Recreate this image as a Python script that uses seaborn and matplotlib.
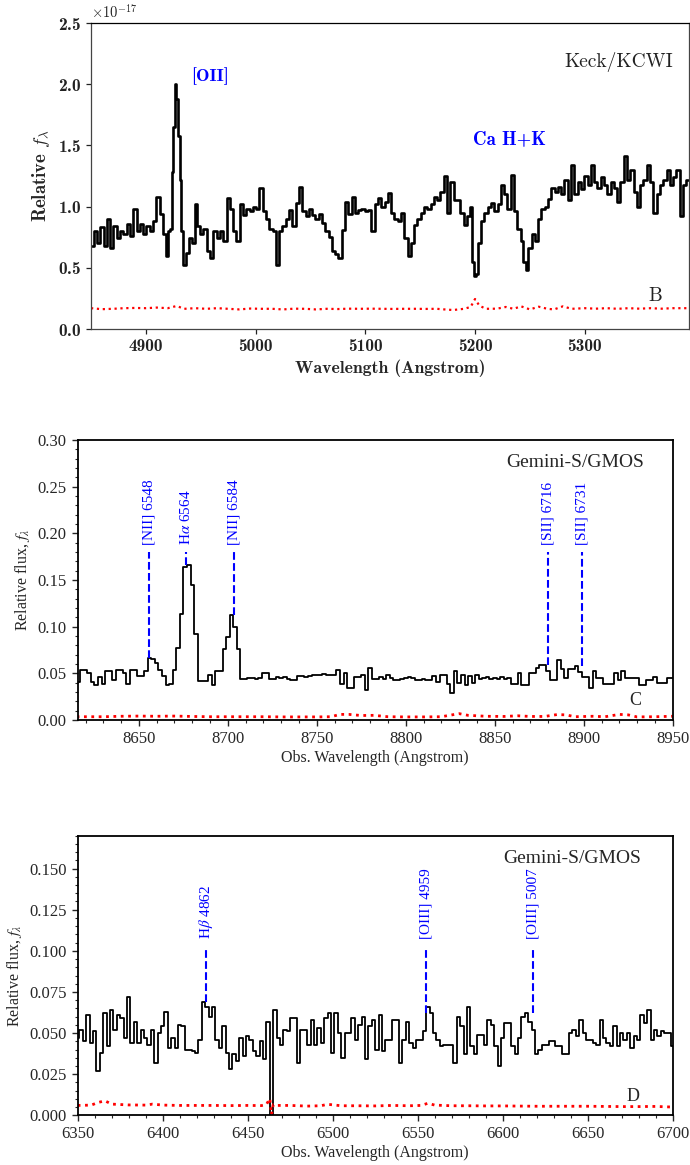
import numpy as np
import seaborn as sns
import matplotlib.pyplot as plt
from matplotlib.ticker import MultipleLocator, ScalarFormatter

# %% Panel B: Keck/KCWI spectrum (flux in units of 1e-17)
wave_b = [4851, 4854, 4857, 4860, 4863, 4866, 4869, 4872, 4875, 4878,
          4881, 4884, 4887, 4890, 4893, 4896, 4899, 4902, 4905, 4908,
          4911, 4914, 4917, 4919, 4921, 4923, 4924, 4925.5, 4927, 4928.5,
          4930, 4931.5, 4933, 4935, 4938, 4941, 4944, 4946, 4948, 4951,
          4954, 4957, 4960, 4963, 4966, 4969, 4972, 4975, 4978, 4981,
          4984, 4987, 4990, 4993, 4996, 4999, 5002, 5005, 5008, 5011,
          5014, 5017, 5020, 5023, 5026, 5029, 5032, 5035, 5038, 5041,
          5044, 5047, 5050, 5053, 5056, 5059, 5062, 5065, 5068, 5071,
          5074, 5077, 5080, 5083, 5086, 5089, 5092, 5095, 5098, 5101,
          5104, 5107, 5110, 5113, 5116, 5119, 5122, 5125, 5128, 5131,
          5134, 5137, 5140, 5143, 5146, 5149, 5152, 5155, 5158, 5161,
          5164, 5167, 5170, 5173, 5176, 5179, 5182, 5185, 5188, 5191,
          5194, 5196, 5198, 5200, 5202, 5204, 5207, 5210, 5213, 5216,
          5219, 5222, 5225, 5228, 5231, 5234, 5237, 5240, 5243, 5245,
          5247, 5250, 5253, 5256, 5259, 5262, 5265, 5268, 5271, 5274,
          5277, 5280, 5283, 5286, 5289, 5292, 5295, 5298, 5301, 5304,
          5307, 5310, 5313, 5316, 5319, 5322, 5325, 5328, 5331, 5334,
          5337, 5340, 5343, 5346, 5349, 5352, 5355, 5358, 5361, 5364,
          5367, 5370, 5373, 5376, 5379, 5382, 5385, 5388, 5391, 5394]
flux_b = [0.68, 0.80, 0.70, 0.83, 0.68, 0.90, 0.66, 0.84, 0.74, 0.80,
          0.78, 0.86, 0.76, 0.98, 0.80, 0.86, 0.78, 0.84, 0.80, 0.88,
          1.08, 0.94, 0.78, 0.60, 0.80, 0.82, 1.28, 1.65, 2.00, 1.88,
          1.58, 1.22, 0.80, 0.52, 0.62, 0.74, 0.70, 1.02, 0.84, 0.78,
          0.82, 0.64, 0.58, 0.80, 0.74, 0.80, 0.72, 1.07, 0.98, 0.80,
          0.72, 1.02, 0.93, 0.98, 0.96, 1.00, 0.98, 1.15, 0.96, 0.90,
          0.82, 0.80, 0.52, 0.80, 0.84, 0.90, 0.97, 0.84, 1.03, 1.16,
          0.96, 0.92, 0.98, 0.93, 0.90, 0.94, 0.87, 0.80, 0.75, 0.64,
          0.61, 0.58, 0.81, 1.04, 0.94, 1.08, 0.95, 0.97, 0.98, 0.96,
          0.97, 0.80, 1.02, 1.07, 1.00, 1.04, 1.11, 0.95, 0.90, 0.88,
          0.95, 0.74, 0.60, 0.70, 0.85, 0.90, 0.95, 1.00, 0.98, 1.02,
          1.08, 1.05, 1.12, 1.25, 0.95, 1.20, 1.05, 1.05, 0.95, 0.85,
          0.92, 1.00, 0.55, 0.43, 0.45, 0.70, 0.88, 0.95, 1.00, 1.03,
          0.96, 1.02, 1.18, 1.10, 0.98, 1.26, 0.96, 0.82, 0.72, 0.55,
          0.48, 0.66, 0.78, 0.72, 0.90, 0.98, 1.00, 1.06, 1.15, 1.12,
          1.16, 1.10, 1.22, 1.05, 1.34, 1.10, 1.20, 1.14, 1.25, 1.18,
          1.34, 1.20, 1.15, 1.24, 1.18, 1.10, 1.20, 1.15, 1.04, 1.20,
          1.41, 1.22, 1.30, 1.12, 1.00, 1.18, 1.22, 1.34, 1.20, 0.95,
          1.10, 1.18, 1.22, 1.30, 1.18, 1.24, 1.30, 0.92, 1.18, 1.22]
err_wave_b = [4850, 4860, 4870, 4880, 4890, 4900, 4910, 4920, 4928, 4935,
              4945, 4955, 4965, 4975, 4985, 4995, 5005, 5015, 5025, 5035,
              5045, 5055, 5065, 5075, 5085, 5095, 5105, 5115, 5125, 5135,
              5145, 5155, 5165, 5172, 5180, 5190, 5196, 5200, 5204, 5210,
              5220, 5228, 5235, 5242, 5250, 5258, 5266, 5272, 5280, 5288,
              5300, 5310, 5320, 5330, 5340, 5350, 5360, 5370, 5380, 5395]
err_b = [0.170, 0.162, 0.165, 0.170, 0.172, 0.170, 0.175, 0.170, 0.188, 0.165,
         0.170, 0.165, 0.170, 0.165, 0.160, 0.167, 0.165, 0.165, 0.160, 0.166,
         0.165, 0.160, 0.165, 0.163, 0.166, 0.165, 0.166, 0.165, 0.164, 0.165,
         0.165, 0.164, 0.165, 0.160, 0.155, 0.165, 0.180, 0.245, 0.190, 0.165,
         0.166, 0.180, 0.165, 0.185, 0.160, 0.182, 0.165, 0.160, 0.185, 0.165,
         0.170, 0.166, 0.170, 0.165, 0.170, 0.166, 0.170, 0.166, 0.170, 0.170]
scale_b = 1e-17

# %% Panel C: Gemini-S/GMOS red side
wave_c = [8616, 8618, 8620, 8622, 8624, 8626, 8628, 8630, 8632, 8634,
          8636, 8638, 8640, 8642, 8644, 8646, 8648, 8650, 8652, 8654,
          8656, 8658, 8660, 8662, 8664, 8666, 8668, 8670, 8672, 8674,
          8676, 8678, 8680, 8682, 8684, 8686, 8688, 8690, 8692, 8694,
          8696, 8698, 8700, 8702, 8704, 8706, 8708, 8710, 8712, 8714,
          8716, 8718, 8720, 8722, 8724, 8726, 8728, 8730, 8732, 8734,
          8736, 8738, 8740, 8742, 8744, 8746, 8748, 8750, 8752, 8754,
          8756, 8758, 8760, 8762, 8764, 8766, 8768, 8770, 8772, 8774,
          8776, 8778, 8780, 8782, 8784, 8786, 8788, 8790, 8792, 8794,
          8796, 8798, 8800, 8802, 8804, 8806, 8808, 8810, 8812, 8814,
          8816, 8818, 8820, 8822, 8824, 8826, 8828, 8830, 8832, 8834,
          8836, 8838, 8840, 8842, 8844, 8846, 8848, 8850, 8852, 8854,
          8856, 8858, 8860, 8862, 8864, 8866, 8868, 8870, 8872, 8874,
          8876, 8878, 8880, 8882, 8884, 8886, 8888, 8890, 8892, 8894,
          8896, 8898, 8900, 8902, 8904, 8906, 8908, 8910, 8912, 8914,
          8916, 8918, 8920, 8922, 8924, 8926, 8928, 8930, 8932, 8934,
          8936, 8938, 8940, 8942, 8944, 8946, 8948, 8950]
flux_c = [0.041, 0.054, 0.054, 0.050, 0.041, 0.038, 0.046, 0.039, 0.052, 0.052,
          0.043, 0.054, 0.054, 0.050, 0.039, 0.054, 0.054, 0.047, 0.047, 0.052,
          0.066, 0.065, 0.061, 0.054, 0.047, 0.038, 0.039, 0.054, 0.077, 0.114,
          0.164, 0.166, 0.145, 0.092, 0.042, 0.042, 0.042, 0.048, 0.038, 0.052,
          0.052, 0.076, 0.089, 0.113, 0.100, 0.076, 0.044, 0.044, 0.045, 0.045,
          0.044, 0.045, 0.050, 0.050, 0.044, 0.044, 0.046, 0.045, 0.046, 0.044,
          0.043, 0.043, 0.047, 0.047, 0.046, 0.047, 0.048, 0.048, 0.048, 0.049,
          0.048, 0.048, 0.048, 0.054, 0.039, 0.050, 0.034, 0.034, 0.046, 0.046,
          0.048, 0.032, 0.056, 0.044, 0.044, 0.046, 0.044, 0.048, 0.045, 0.043,
          0.043, 0.044, 0.045, 0.046, 0.045, 0.043, 0.043, 0.044, 0.043, 0.043,
          0.047, 0.041, 0.048, 0.048, 0.039, 0.029, 0.052, 0.040, 0.048, 0.038,
          0.047, 0.040, 0.048, 0.044, 0.045, 0.046, 0.044, 0.045, 0.044, 0.046,
          0.044, 0.045, 0.039, 0.039, 0.050, 0.038, 0.038, 0.050, 0.050, 0.056,
          0.059, 0.059, 0.053, 0.043, 0.043, 0.064, 0.055, 0.045, 0.055, 0.055,
          0.058, 0.051, 0.046, 0.046, 0.034, 0.053, 0.045, 0.045, 0.039, 0.039,
          0.039, 0.050, 0.043, 0.053, 0.045, 0.045, 0.045, 0.045, 0.038, 0.038,
          0.043, 0.043, 0.046, 0.040, 0.040, 0.040, 0.045, 0.045]
err_wave_c = [8615, 8630, 8640, 8650, 8660, 8670, 8680, 8690, 8700, 8710,
              8720, 8730, 8740, 8750, 8758, 8763, 8768, 8775, 8782, 8790,
              8800, 8810, 8820, 8826, 8830, 8835, 8845, 8855, 8863, 8870,
              8878, 8885, 8890, 8895, 8905, 8912, 8920, 8925, 8930, 8940,
              8950]
err_c = [0.0035, 0.0035, 0.0040, 0.0042, 0.0040, 0.0042, 0.0038, 0.0035, 0.0035, 0.0035,
         0.0035, 0.0033, 0.0033, 0.0033, 0.0035, 0.0060, 0.0060, 0.0048, 0.0050, 0.0035,
         0.0033, 0.0033, 0.0035, 0.0055, 0.0068, 0.0050, 0.0040, 0.0038, 0.0045, 0.0038,
         0.0038, 0.0058, 0.0055, 0.0035, 0.0040, 0.0035, 0.0060, 0.0055, 0.0033, 0.0035,
         0.0040]
lines_c_wave = [8655.5, 8676.4, 8703.7, 8879.8, 8899.0]
lines_c_flux = [0.066, 0.166, 0.113, 0.059, 0.058]
lines_c_label = ["[NII] 6548", r"H$\alpha$ 6564", "[NII] 6584",
                 "[SII] 6716", "[SII] 6731"]

# %% Panel D: Gemini-S/GMOS blue side
wave_d = [6350, 6352, 6354, 6356, 6358, 6360, 6362, 6364, 6366, 6368,
          6370, 6372, 6374, 6376, 6378, 6380, 6382, 6384, 6386, 6388,
          6390, 6392, 6394, 6396, 6398, 6400, 6402, 6404, 6406, 6408,
          6410, 6412, 6414, 6416, 6418, 6420, 6422, 6424, 6426, 6428,
          6430, 6432, 6434, 6436, 6438, 6440, 6442, 6444, 6446, 6448,
          6450, 6452, 6454, 6456, 6458, 6460, 6462, 6464, 6466, 6468,
          6470, 6472, 6474, 6476, 6478, 6480, 6482, 6484, 6486, 6488,
          6490, 6492, 6494, 6496, 6498, 6500, 6502, 6504, 6506, 6508,
          6510, 6512, 6514, 6516, 6518, 6520, 6522, 6524, 6526, 6528,
          6530, 6532, 6534, 6536, 6538, 6540, 6542, 6544, 6546, 6548,
          6550, 6552, 6554, 6556, 6558, 6560, 6562, 6564, 6566, 6568,
          6570, 6572, 6574, 6576, 6578, 6580, 6582, 6584, 6586, 6588,
          6590, 6592, 6594, 6596, 6598, 6600, 6602, 6604, 6606, 6608,
          6610, 6612, 6614, 6616, 6618, 6620, 6622, 6624, 6626, 6628,
          6630, 6632, 6634, 6636, 6638, 6640, 6642, 6644, 6646, 6648,
          6650, 6652, 6654, 6656, 6658, 6660, 6662, 6664, 6666, 6668,
          6670, 6672, 6674, 6676, 6678, 6680, 6682, 6684, 6686, 6688,
          6690, 6692, 6694, 6696, 6698, 6700]
flux_d = [0.047, 0.052, 0.045, 0.061, 0.044, 0.051, 0.027, 0.038, 0.062, 0.042,
          0.064, 0.052, 0.061, 0.059, 0.047, 0.072, 0.044, 0.057, 0.044, 0.052,
          0.047, 0.043, 0.052, 0.032, 0.050, 0.054, 0.063, 0.041, 0.047, 0.041,
          0.055, 0.054, 0.040, 0.040, 0.039, 0.038, 0.046, 0.069, 0.066, 0.060,
          0.066, 0.046, 0.041, 0.054, 0.038, 0.028, 0.037, 0.033, 0.047, 0.036,
          0.048, 0.046, 0.039, 0.036, 0.045, 0.034, 0.057, -0.010, 0.064, 0.047,
          0.043, 0.052, 0.051, 0.059, 0.059, 0.032, 0.052, 0.052, 0.043, 0.058,
          0.043, 0.053, 0.044, 0.059, 0.062, 0.038, 0.062, 0.050, 0.035, 0.050,
          0.050, 0.059, 0.046, 0.055, 0.060, 0.034, 0.054, 0.058, 0.040, 0.061,
          0.039, 0.046, 0.046, 0.058, 0.058, 0.032, 0.046, 0.057, 0.044, 0.041,
          0.046, 0.046, 0.051, 0.066, 0.062, 0.050, 0.046, 0.042, 0.043, 0.043,
          0.043, 0.032, 0.060, 0.054, 0.037, 0.066, 0.042, 0.037, 0.049, 0.049,
          0.043, 0.058, 0.055, 0.042, 0.030, 0.047, 0.056, 0.056, 0.042, 0.037,
          0.047, 0.060, 0.062, 0.057, 0.052, 0.037, 0.040, 0.043, 0.043, 0.045,
          0.045, 0.042, 0.042, 0.037, 0.037, 0.050, 0.052, 0.048, 0.058, 0.050,
          0.046, 0.046, 0.044, 0.043, 0.058, 0.047, 0.044, 0.042, 0.054, 0.042,
          0.050, 0.046, 0.050, 0.041, 0.048, 0.046, 0.061, 0.056, 0.064, 0.046,
          0.052, 0.048, 0.051, 0.050, 0.050, 0.042]
err_wave_d = [6350, 6358, 6362, 6366, 6370, 6380, 6390, 6394, 6400, 6410,
              6420, 6430, 6440, 6450, 6458, 6461, 6463, 6464, 6465, 6467,
              6475, 6485, 6493, 6497, 6505, 6515, 6525, 6535, 6545, 6552,
              6556, 6560, 6570, 6580, 6590, 6600, 6610, 6620, 6630, 6640,
              6650, 6660, 6670, 6680, 6690, 6700]
err_d = [0.0060, 0.0062, 0.0078, 0.0088, 0.0068, 0.0063, 0.0062, 0.0068, 0.0062, 0.0060,
         0.0060, 0.0060, 0.0059, 0.0060, 0.0059, 0.0065, 0.0102, 0.0005, 0.0065, 0.0060,
         0.0060, 0.0056, 0.0058, 0.0067, 0.0058, 0.0058, 0.0057, 0.0060, 0.0058, 0.0060,
         0.0073, 0.0062, 0.0058, 0.0058, 0.0057, 0.0057, 0.0056, 0.0055, 0.0055, 0.0055,
         0.0055, 0.0054, 0.0053, 0.0053, 0.0054, 0.0050]
lines_d_wave = [6425.5, 6554.7, 6617.6]
lines_d_flux = [0.069, 0.062, 0.062]
lines_d_label = [r"H$\beta$ 4862", "[OIII] 4959", "[OIII] 5007"]

# %% Style
sns.set_style("ticks")
plt.rcParams["font.family"] = ["Liberation Serif", "DejaVu Serif"]
plt.rcParams["mathtext.fontset"] = "cm"
plt.rcParams["xtick.direction"] = "out"
plt.rcParams["ytick.direction"] = "out"

W, H = 690, 1165
fig = plt.figure(figsize=(W / 100, H / 100), dpi=100)


def px_axes(left, top, right, bottom):
    return fig.add_axes([left / W, 1 - bottom / H, (right - left) / W, (bottom - top) / H])


# %% Panel B
ax = px_axes(91, 23, 689, 329)
sns.lineplot(x=wave_b, y=np.array(flux_b) * scale_b, ax=ax, color="black",
             lw=1.9, drawstyle="steps-mid", estimator=None, sort=False)
sns.lineplot(x=err_wave_b, y=np.array(err_b) * scale_b, ax=ax, color="red",
             lw=1.6, linestyle=":", estimator=None, sort=False)
ax.set_xlim(4850, 5395)
ax.set_ylim(0, 2.5 * scale_b)
ax.xaxis.set_major_locator(MultipleLocator(100))
ax.yaxis.set_major_locator(MultipleLocator(0.5 * scale_b))
ax.yaxis.set_major_formatter(ScalarFormatter(useMathText=True))
ax.tick_params(which="major", length=3.5, width=0.9, labelsize=12.5,
               labelfontfamily="cmb10", colors="#222222")
ax.yaxis.get_offset_text().set_fontsize(10.5)
ax.yaxis.get_offset_text().set_fontfamily("cmr10")
for sp in ax.spines.values():
    sp.set_color("#444444")
    sp.set_linewidth(0.9)
ax.spines["top"].set_color("black")
ax.set_xlabel("Wavelength (Angstrom)", fontfamily="cmb10", fontsize=12.8)
ax.set_ylabel(r"Relative $f_\lambda$", fontfamily="cmb10", fontsize=13.5)
ax.text(4941, 2.07 * scale_b, "[OII]", color="blue", fontfamily="cmb10",
        fontsize=13, ha="left", va="center")
ax.text(5231, 1.55 * scale_b, "Ca H+K", color="blue", fontfamily="cmb10",
        fontsize=13.5, ha="center", va="center")
ax.text(5331, 2.18 * scale_b, "Keck/KCWI", color="#222222", fontfamily="cmr10",
        fontsize=14, ha="center", va="center")
ax.text(5364, 0.273 * scale_b, "B", color="#222222", fontfamily="cmr10",
        fontsize=14, ha="center", va="center")


def gemini_panel(ax, wave, flux, err_wave, err, lines_wave, lines_flux,
                 lines_label, line_top, label_y, xlim, ylim, ymaj, ymin,
                 tag, tag_xy, inst_xy):
    sns.lineplot(x=wave, y=flux, ax=ax, color="black", lw=1.3,
                 drawstyle="steps-mid", estimator=None, sort=False)
    sns.lineplot(x=err_wave, y=err, ax=ax, color="red", lw=2.0,
                 linestyle=":", estimator=None, sort=False)
    ax.vlines(lines_wave, lines_flux, line_top, colors="blue",
              linestyles="--", lw=1.5)
    for w, lab in zip(lines_wave, lines_label):
        ax.text(w, label_y, lab, color="blue", rotation=90, fontsize=11,
                ha="center", va="bottom", math_fontfamily="stix")
    ax.set_xlim(*xlim)
    ax.set_ylim(*ylim)
    ax.xaxis.set_major_locator(MultipleLocator(50))
    ax.xaxis.set_minor_locator(MultipleLocator(10))
    ax.yaxis.set_major_locator(MultipleLocator(ymaj))
    ax.yaxis.set_minor_locator(MultipleLocator(ymin))
    ax.tick_params(which="major", length=4.5, width=1.0, labelsize=12)
    ax.tick_params(which="minor", length=2.5, width=0.8)
    for sp in ax.spines.values():
        sp.set_color("black")
        sp.set_linewidth(1.3)
    ax.set_xlabel("Obs. Wavelength (Angstrom)", fontsize=11.5, labelpad=2)
    ax.set_ylabel(r"Relative flux, $f_\lambda$", fontsize=11.5,
                  math_fontfamily="stix")
    ax.text(*inst_xy, "Gemini-S/GMOS", fontsize=14, ha="center", va="center")
    ax.text(*tag_xy, tag, fontsize=13, ha="center", va="center")


# %% Panel C
ax = px_axes(77.7, 440, 672.7, 720)
gemini_panel(ax, wave_c, flux_c, err_wave_c, err_c, lines_c_wave, lines_c_flux,
             lines_c_label, 0.18, 0.188, (8615.6, 8950), (0, 0.30), 0.05, 0.01,
             "C", (8929, 0.021), (8895, 0.276))

# %% Panel D
ax = px_axes(77.7, 835.7, 672.7, 1115.3)
gemini_panel(ax, wave_d, flux_d, err_wave_d, err_d, lines_d_wave, lines_d_flux,
             lines_d_label, 0.102, 0.107, (6350, 6700), (0, 0.17), 0.025, 0.005,
             "D", (6676.5, 0.0113), (6640.6, 0.156))

fig.savefig("out.png", dpi=100)
